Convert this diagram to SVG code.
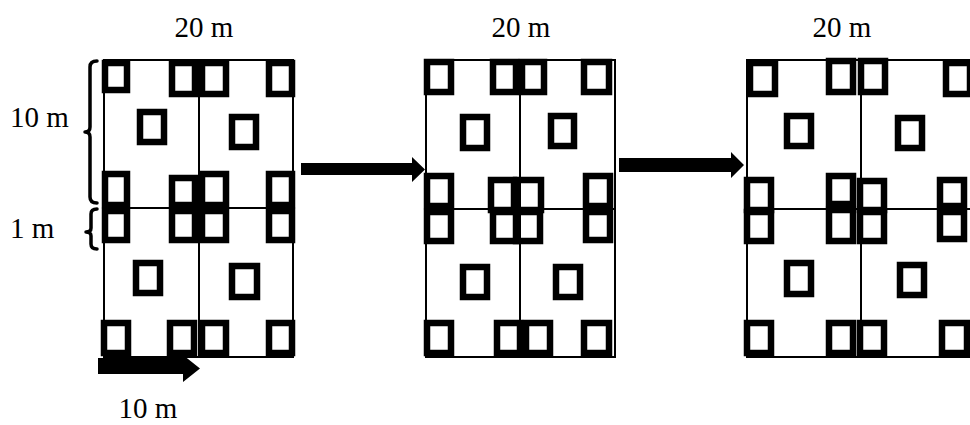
<svg xmlns="http://www.w3.org/2000/svg" width="970" height="425" viewBox="0 0 970 425">
<style>
.bg{fill:#fff}
.grid{fill:none;stroke:#000;stroke-width:2}
.sq{fill:none;stroke:#000;stroke-width:6.5}
.lbl{font-family:"Liberation Serif","Times New Roman",serif;font-size:29px;fill:#000}
.arr{fill:#000}
.brace{fill:none;stroke:#000;stroke-width:3.5;stroke-linecap:round;stroke-linejoin:round}
</style>
<rect class="bg" x="0" y="0" width="970" height="425"/>
<g id="labels">
<text class="lbl" x="204" y="37" text-anchor="middle">20 m</text>
<text class="lbl" x="521" y="37" text-anchor="middle">20 m</text>
<text class="lbl" x="842" y="37" text-anchor="middle">20 m</text>
<text class="lbl" x="10" y="127">10 m</text>
<text class="lbl" x="10" y="238">1 m</text>
<text class="lbl" x="148" y="418" text-anchor="middle">10 m</text>
</g>
<g id="braces">
<path class="brace" d="M97,61 Q90,61 90,67 L90,127 Q90,132 85,132 Q90,132 90,137 L90,197 Q90,203 97,203"/>
<path class="brace" d="M97,209 Q91,209 91,214 L91,228 Q91,232 86,232 Q91,232 91,236 L91,244 Q91,249 97,249"/>
</g>
<g id="plot1">
<rect class="grid" x="104" y="60" width="189" height="297"/>
<line class="grid" x1="199" y1="60" x2="199" y2="357"/>
<line class="grid" x1="104" y1="208" x2="293" y2="208"/>
<rect class="sq" x="105" y="63" width="22" height="27"/>
<rect class="sq" x="172" y="63" width="23" height="31"/>
<rect class="sq" x="202" y="63" width="24" height="31"/>
<rect class="sq" x="269" y="63" width="23" height="31"/>
<rect class="sq" x="140" y="112" width="24" height="30"/>
<rect class="sq" x="232" y="117" width="24" height="30"/>
<rect class="sq" x="105" y="174" width="22" height="31"/>
<rect class="sq" x="172" y="178" width="23" height="27"/>
<rect class="sq" x="202" y="174" width="24" height="31"/>
<rect class="sq" x="269" y="174" width="23" height="31"/>
<rect class="sq" x="105" y="211" width="22" height="29"/>
<rect class="sq" x="172" y="211" width="23" height="29"/>
<rect class="sq" x="202" y="211" width="24" height="29"/>
<rect class="sq" x="269" y="211" width="23" height="29"/>
<rect class="sq" x="136" y="263" width="24" height="30"/>
<rect class="sq" x="232" y="266" width="25" height="31"/>
<rect class="sq" x="104" y="323" width="24" height="30"/>
<rect class="sq" x="170" y="323" width="24" height="30"/>
<rect class="sq" x="202" y="323" width="24" height="30"/>
<rect class="sq" x="269" y="323" width="23" height="30"/>
</g>
<g id="plot2">
<rect class="grid" x="426" y="60" width="189" height="297"/>
<line class="grid" x1="520" y1="60" x2="520" y2="357"/>
<line class="grid" x1="426" y1="209" x2="615" y2="209"/>
<rect class="sq" x="427" y="62" width="24" height="30"/>
<rect class="sq" x="493" y="62" width="23" height="30"/>
<rect class="sq" x="522" y="62" width="22" height="30"/>
<rect class="sq" x="584" y="62" width="25" height="30"/>
<rect class="sq" x="463" y="117" width="24" height="31"/>
<rect class="sq" x="551" y="116" width="23" height="30"/>
<rect class="sq" x="427" y="176" width="24" height="30"/>
<rect class="sq" x="491" y="180" width="23" height="30"/>
<rect class="sq" x="516" y="180" width="25" height="30"/>
<rect class="sq" x="586" y="176" width="24" height="30"/>
<rect class="sq" x="427" y="212" width="24" height="29"/>
<rect class="sq" x="493" y="212" width="24" height="29"/>
<rect class="sq" x="516" y="212" width="24" height="29"/>
<rect class="sq" x="586" y="212" width="24" height="28"/>
<rect class="sq" x="463" y="267" width="24" height="30"/>
<rect class="sq" x="556" y="267" width="24" height="30"/>
<rect class="sq" x="427" y="323" width="24" height="30"/>
<rect class="sq" x="497" y="323" width="23" height="30"/>
<rect class="sq" x="526" y="323" width="24" height="30"/>
<rect class="sq" x="584" y="323" width="25" height="30"/>
</g>
<g id="plot3">
<rect class="grid" x="747" y="60" width="240" height="297"/>
<line class="grid" x1="861" y1="60" x2="861" y2="357"/>
<line class="grid" x1="747" y1="209" x2="987" y2="209"/>
<rect class="sq" x="750" y="63" width="25" height="31"/>
<rect class="sq" x="829" y="61" width="24" height="31"/>
<rect class="sq" x="861" y="61" width="24" height="31"/>
<rect class="sq" x="946" y="63" width="24" height="31"/>
<rect class="sq" x="787" y="116" width="24" height="30"/>
<rect class="sq" x="898" y="118" width="24" height="30"/>
<rect class="sq" x="747" y="180" width="24" height="30"/>
<rect class="sq" x="829" y="176" width="24" height="28"/>
<rect class="sq" x="860" y="181" width="24" height="29"/>
<rect class="sq" x="940" y="180" width="24" height="26"/>
<rect class="sq" x="747" y="212" width="24" height="29"/>
<rect class="sq" x="829" y="210" width="24" height="31"/>
<rect class="sq" x="860" y="212" width="24" height="29"/>
<rect class="sq" x="940" y="212" width="24" height="27"/>
<rect class="sq" x="787" y="263" width="24" height="31"/>
<rect class="sq" x="900" y="265" width="24" height="30"/>
<rect class="sq" x="747" y="323" width="24" height="30"/>
<rect class="sq" x="829" y="323" width="24" height="30"/>
<rect class="sq" x="860" y="323" width="24" height="30"/>
<rect class="sq" x="942" y="323" width="25" height="30"/>
</g>
<g id="connectors">
<polygon class="arr" points="301,163 412,163 412,157 425,169.5 412,182 412,175 301,175"/>
<polygon class="arr" points="619,158 731,158 731,152 744,165 731,178 731,172 619,172"/>
<polygon class="arr" points="98,358 183,358 183,355 200,368.5 183,382 183,374 98,374"/>
</g>
</svg>
